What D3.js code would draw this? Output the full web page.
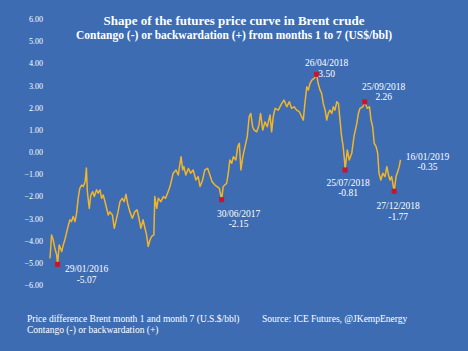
<!DOCTYPE html>
<html>
<head>
<meta charset="utf-8">
<script src="https://cdn.jsdelivr.net/npm/d3@7"></script>
<style>
  html, body { margin: 0; padding: 0; background: #3d6cb2; }
  svg { display: block; }
  text { font-family: "Liberation Serif", "DejaVu Serif", serif; fill: #fff; }
</style>
</head>
<body>
<svg id="chart"></svg>
<script>
// Chart size
const W = 468, H = 351;

// Daily spread month1 - month7 (US$/bbl)
const dates = [
  "2016-01-05","2016-01-10","2016-01-15","2016-01-20","2016-01-26","2016-01-29","2016-02-03","2016-02-11",
  "2016-02-16","2016-02-21","2016-02-26","2016-03-02","2016-03-08","2016-03-13","2016-03-18","2016-03-24",
  "2016-03-29","2016-04-03","2016-04-08","2016-04-14","2016-04-19","2016-04-25","2016-04-29","2016-05-02",
  "2016-05-08","2016-05-13","2016-05-19","2016-05-24","2016-05-31","2016-06-05","2016-06-11","2016-06-16",
  "2016-06-21","2016-06-26","2016-07-07","2016-07-12","2016-07-20","2016-07-26","2016-07-31","2016-08-07",
  "2016-08-13","2016-08-20","2016-08-26","2016-09-01","2016-09-06","2016-09-13","2016-09-21","2016-09-29",
  "2016-10-06","2016-10-12","2016-10-18","2016-10-25","2016-10-31","2016-11-05","2016-11-10","2016-11-16",
  "2016-11-21","2016-11-28","2016-12-01","2016-12-07","2016-12-12","2016-12-20","2016-12-28","2017-01-04",
  "2017-01-12","2017-01-18","2017-01-28","2017-02-06","2017-02-13","2017-02-22","2017-02-27","2017-03-03",
  "2017-03-09","2017-03-17","2017-03-24","2017-04-01","2017-04-10","2017-04-17","2017-04-23","2017-05-01",
  "2017-05-08","2017-05-17","2017-05-24","2017-05-31","2017-06-09","2017-06-16","2017-06-23","2017-06-30",
  "2017-07-05","2017-07-16","2017-07-21","2017-07-26","2017-08-01","2017-08-06","2017-08-14","2017-08-20",
  "2017-08-25","2017-08-30","2017-09-05","2017-09-12","2017-09-19","2017-09-25","2017-09-30","2017-10-06",
  "2017-10-11","2017-10-19","2017-10-26","2017-10-31","2017-11-07","2017-11-14","2017-11-21","2017-11-30",
  "2017-12-05","2017-12-10","2017-12-16","2017-12-26","2018-01-06","2018-01-13","2018-01-22","2018-01-30",
  "2018-02-06","2018-02-14","2018-02-22","2018-03-02","2018-03-10","2018-03-15","2018-03-20","2018-03-26",
  "2018-03-31","2018-04-05","2018-04-11","2018-04-18","2018-04-26","2018-05-01","2018-05-07","2018-05-12",
  "2018-05-17","2018-05-23","2018-05-28","2018-06-02","2018-06-07","2018-06-13","2018-06-18","2018-06-23",
  "2018-06-29","2018-07-04","2018-07-09","2018-07-14","2018-07-19","2018-07-24","2018-07-25","2018-08-01",
  "2018-08-07","2018-08-15","2018-08-22","2018-08-31","2018-09-05","2018-09-10","2018-09-19","2018-09-25",
  "2018-10-03","2018-10-10","2018-10-15","2018-10-20","2018-10-25","2018-10-31","2018-11-05","2018-11-09",
  "2018-11-15","2018-11-21","2018-11-28","2018-12-04","2018-12-09","2018-12-14","2018-12-19","2018-12-27",
  "2019-01-02","2019-01-07","2019-01-12","2019-01-16"
];
const spread = [
  -4.80,-3.74,-3.96,-4.32,-4.64,-5.07,-4.19,-4.49,
  -4.19,-3.96,-3.66,-3.36,-3.06,-3.14,-2.91,-3.14,
  -2.76,-2.09,-1.64,-1.49,-1.56,-1.34,-0.72,-1.79,
  -2.55,-1.94,-1.79,-2.01,-1.70,-1.86,-1.71,-2.09,
  -1.94,-2.20,-2.84,-2.70,-2.84,-3.44,-3.14,-2.69,
  -2.24,-2.09,-2.24,-1.91,-2.31,-2.69,-2.99,-2.69,
  -2.61,-2.99,-3.44,-3.06,-3.44,-3.74,-4.26,-3.96,
  -3.81,-3.74,-2.01,-2.54,-2.09,-2.24,-2.01,-2.09,
  -1.79,-1.56,-0.96,-0.81,-1.04,-0.21,-0.81,-0.66,
  -1.04,-0.74,-0.96,-0.81,-1.26,-1.11,-1.56,-1.26,
  -0.81,-0.74,-1.04,-1.34,-1.49,-1.56,-1.64,-2.15,
  -1.56,-1.41,-0.96,-0.36,-0.51,-0.21,-0.36,0.24,
  0.39,-0.81,-0.21,0.24,0.69,1.59,1.74,1.14,
  0.99,0.91,1.22,1.74,0.99,1.36,1.14,1.67,
  0.91,1.59,1.97,1.89,2.19,2.34,2.04,2.27,
  1.97,2.04,1.89,1.82,1.59,1.44,2.19,2.94,
  2.79,3.09,3.24,3.32,3.50,3.09,2.79,2.64,
  2.19,1.89,1.44,1.74,1.89,1.74,2.04,1.89,
  2.27,2.19,1.44,0.69,0.24,-0.51,-0.81,0.09,
  -0.36,-0.06,0.69,1.29,1.74,1.97,2.04,2.26,
  1.97,2.04,1.44,1.14,0.39,0.24,-0.06,-0.96,
  -1.26,-0.96,-1.11,-0.66,-1.04,-1.26,-1.11,-1.77,
  -1.11,-0.89,-0.66,-0.35
];

// Labelled turning points
const markDates = ["2016-01-29","2017-06-30","2018-04-26","2018-07-25","2018-09-25","2018-12-27"];
const markLabels = ["29/01/2016","30/06/2017","26/04/2018","25/07/2018","25/09/2018","27/12/2018"];
const markValues = [-5.07, -2.15, 3.50, -0.81, 2.26, -1.77];
const lastLabel = "16/01/2019";
const lastValue = -0.35;

const yTicks = [-6, -5, -4, -3, -2, -1, 0, 1, 2, 3, 4, 5, 6];

const parse = d3.timeParse("%Y-%m-%d");
const data = dates.map((d, i) => ({ date: parse(d), value: spread[i] }));
const marks = markDates.map((d, i) => ({ date: parse(d), label: markLabels[i], value: markValues[i] }));

const svg = d3.select("#chart").attr("width", W).attr("height", H);

svg.append("rect").attr("width", W).attr("height", H).attr("fill", "#3d6cb2");

const x = d3.scaleTime()
  .domain(d3.extent(data, (d) => d.date))
  .range([50, 400.5]);
const y = d3.scaleLinear().domain([-6, 6]).range([285, 19]);

// y axis labels only
const yAxis = svg.append("g")
  .attr("transform", "translate(43,0)")
  .call(d3.axisLeft(y).tickValues(yTicks).tickFormat(d3.format(".2f")).tickSize(0).tickPadding(0));
yAxis.select(".domain").remove();
yAxis.selectAll("text")
  .attr("fill", "#fff")
  .style("font-family", "'Liberation Serif', serif")
  .style("font-size", "8px");

// the line
const line = d3.line().x((d) => x(d.date)).y((d) => y(d.value));
svg.append("path")
  .datum(data)
  .attr("fill", "none")
  .attr("stroke", "#f2b52a")
  .attr("stroke-width", 1.5)
  .attr("stroke-linejoin", "round")
  .attr("d", line);

// red markers
svg.selectAll(".mark")
  .data(marks)
  .enter()
  .append("rect")
  .attr("class", "mark")
  .attr("x", (d) => x(d.date) - 2.5)
  .attr("y", (d) => y(d.value) - 2.5)
  .attr("width", 5)
  .attr("height", 5)
  .attr("fill", "#c8152b");

// annotation offsets (label centre relative to marker)
const offsets = [[29, 5], [17, 14], [10, -11], [3, 13], [19, -15], [4, 15]];
marks.forEach((d, i) => {
  const cx = x(d.date) + offsets[i][0];
  const cy = y(d.value) + offsets[i][1];
  const t = svg.append("text")
    .attr("text-anchor", "middle")
    .style("font-size", "9.5px");
  t.append("tspan").attr("x", cx).attr("y", cy + 3).text(d.label);
  t.append("tspan").attr("x", cx).attr("y", cy + 13.5).text(d.value.toFixed(2));
});

const last = data[data.length - 1];
const lt = svg.append("text").attr("text-anchor", "middle").style("font-size", "9.5px");
lt.append("tspan").attr("x", x(last.date) + 27).attr("y", y(lastValue) + 0).text(lastLabel);
lt.append("tspan").attr("x", x(last.date) + 27).attr("y", y(lastValue) + 10.5).text(lastValue.toFixed(2));

// titles
svg.append("text")
  .attr("x", 234).attr("y", 25)
  .attr("text-anchor", "middle")
  .style("font-size", "13px")
  .style("font-weight", "bold")
  .text("Shape of  the futures price curve in Brent crude");
svg.append("text")
  .attr("x", 234).attr("y", 39)
  .attr("text-anchor", "middle")
  .style("font-size", "11.5px")
  .style("font-weight", "bold")
  .text("Contango (-) or backwardation (+) from months 1 to 7 (US$/bbl)");

// footer
svg.append("text")
  .attr("x", 27).attr("y", 322)
  .style("font-size", "9.5px")
  .text("Price difference Brent month  1 and month 7 (U.S.$/bbl)");
svg.append("text")
  .attr("x", 262).attr("y", 322)
  .style("font-size", "9.5px")
  .text("Source:  ICE Futures, @JKempEnergy");
svg.append("text")
  .attr("x", 27).attr("y", 333)
  .style("font-size", "9.5px")
  .text("Contango (-) or backwardation (+)");
</script>
</body>
</html>
